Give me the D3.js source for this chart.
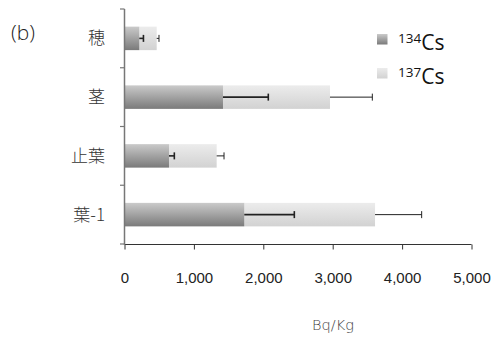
<!DOCTYPE html>
<html>
<head>
<meta charset="utf-8">
<script src="https://cdn.jsdelivr.net/npm/d3@7"></script>
<style>
  html, body { margin: 0; padding: 0; background: #fff; }
  svg { display: block; }
</style>
</head>
<body>
<svg id="chart" width="500" height="341"></svg>
<script>
// Cesium activity by plant part (Bq/Kg), stacked 134Cs + 137Cs
const categories = ["穂", "茎", "止葉", "葉-1"];
const cs134 = [213, 1419, 641, 1726];
const cs134Err = [60, 653, 77, 721];
const cs137 = [251, 1542, 687, 1884];
const cs137Err = [33, 610, 106, 672];
const xTicks = [0, 1000, 2000, 3000, 4000, 5000];
const seriesNames = ["134", "137"];

const svg = d3.select("#chart");
const defs = svg.append("defs");

const g134 = defs.append("linearGradient").attr("id", "g134")
  .attr("x1", 0).attr("y1", 0).attr("x2", 0).attr("y2", 1);
g134.append("stop").attr("offset", "0%").attr("stop-color", "#cacaca");
g134.append("stop").attr("offset", "100%").attr("stop-color", "#7a7a7a");

const g137 = defs.append("linearGradient").attr("id", "g137")
  .attr("x1", 0).attr("y1", 0).attr("x2", 0).attr("y2", 1);
g137.append("stop").attr("offset", "0%").attr("stop-color", "#ececec");
g137.append("stop").attr("offset", "100%").attr("stop-color", "#d2d2d2");

const x = d3.scaleLinear().domain([0, 5000]).range([124.5, 471.5]);
const y = d3.scaleBand().domain(categories).range([9, 244]).paddingInner(0.6).paddingOuter(0.3);
const band = d3.scaleBand().domain(categories).range([9, 244]);

const tickFont = "'Liberation Sans', Arial, sans-serif";

// bars
const rows = categories.map((c, i) => ({
  c, a: cs134[i], ae: cs134Err[i], b: cs137[i], be: cs137Err[i]
}));

const bars = svg.append("g");
bars.selectAll("rect.b137").data(rows).join("rect")
  .attr("x", d => x(d.a)).attr("y", d => y(d.c))
  .attr("width", d => x(d.a + d.b) - x(d.a)).attr("height", y.bandwidth())
  .attr("fill", "url(#g137)");
bars.selectAll("rect.b134").data(rows).join("rect")
  .attr("x", x(0)).attr("y", d => y(d.c))
  .attr("width", d => x(d.a) - x(0)).attr("height", y.bandwidth())
  .attr("fill", "url(#g134)");

// error bars (positive side only)
const errs = svg.append("g").attr("stroke", "#222").attr("stroke-width", 1);
function drawErr(getStart, getEnd, width) {
  rows.forEach(d => {
    const cy = y(d.c) + y.bandwidth() / 2;
    errs.append("line").attr("x1", getStart(d)).attr("x2", getEnd(d))
      .attr("y1", cy).attr("y2", cy).attr("stroke-width", width);
    errs.append("line").attr("x1", getEnd(d)).attr("x2", getEnd(d))
      .attr("y1", cy - 3.5).attr("y2", cy + 3.5).attr("stroke-width", width);
  });
}
drawErr(d => x(d.a), d => x(d.a + d.ae), 1.6);
drawErr(d => x(d.a + d.b), d => x(d.a + d.b + d.be), 1);

// x axis
const xAxis = svg.append("g").attr("transform", "translate(0,244.5)")
  .call(d3.axisBottom(x).tickValues(xTicks).tickSize(5).tickPadding(23)
    .tickFormat(d3.format(",")));
xAxis.select(".domain").attr("stroke", "#333").attr("d", `M${x(0)},0H${x(5000)}`);
xAxis.selectAll(".tick line").attr("stroke", "#333");
xAxis.selectAll("text").attr("font-family", tickFont).attr("font-size", 15).attr("fill", "#222");

// y axis with ticks at band boundaries
const yg = svg.append("g");
yg.append("line").attr("x1", 124.5).attr("x2", 124.5).attr("y1", 9).attr("y2", 245)
  .attr("stroke", "#777").attr("stroke-width", 1.5);
const bounds = categories.map(c => band(c)).concat([band.range()[1]]);
yg.selectAll("line.t").data(bounds).join("line")
  .attr("x1", 120).attr("x2", 124.5).attr("y1", d => d).attr("y2", d => d)
  .attr("stroke", "#777").attr("stroke-width", 1.2);
yg.selectAll("text").data(categories).join("text")
  .attr("x", 105).attr("y", c => y(c) + y.bandwidth() / 2)
  .attr("dy", "0.36em").attr("text-anchor", "end")
  .attr("font-family", "'Noto Sans CJK JP', sans-serif").attr("font-weight", 300)
  .attr("font-size", 17).attr("fill", "#333").text(c => c);

// panel label
svg.append("text").attr("x", 11).attr("y", 40)
  .attr("font-family", "'Open Sans', sans-serif").attr("font-weight", 300)
  .attr("font-size", 21).attr("fill", "#222").text("(b)");

// axis title
svg.append("text").attr("x", 333).attr("y", 330).attr("text-anchor", "middle")
  .attr("font-family", "'DejaVu Sans', sans-serif").attr("font-weight", 300)
  .attr("font-size", 14.5).attr("fill", "#444").text("Bq/Kg");

// legend
const legend = svg.append("g");
const fills = ["url(#g134)", "url(#g137)"];
seriesNames.forEach((s, i) => {
  const ly = 34 + i * 34;
  legend.append("rect").attr("x", 377).attr("y", ly).attr("width", 10.5).attr("height", 10.5)
    .attr("fill", fills[i]);
  const t = legend.append("text").attr("x", 398).attr("y", ly + 16)
    .attr("font-family", "'Open Sans', sans-serif").attr("fill", "#111");
  t.append("tspan").attr("font-size", 13.5).attr("dy", -7).text(s);
  t.append("tspan").attr("font-size", 21).attr("dy", 7).text("Cs");
});
</script>
</body>
</html>
